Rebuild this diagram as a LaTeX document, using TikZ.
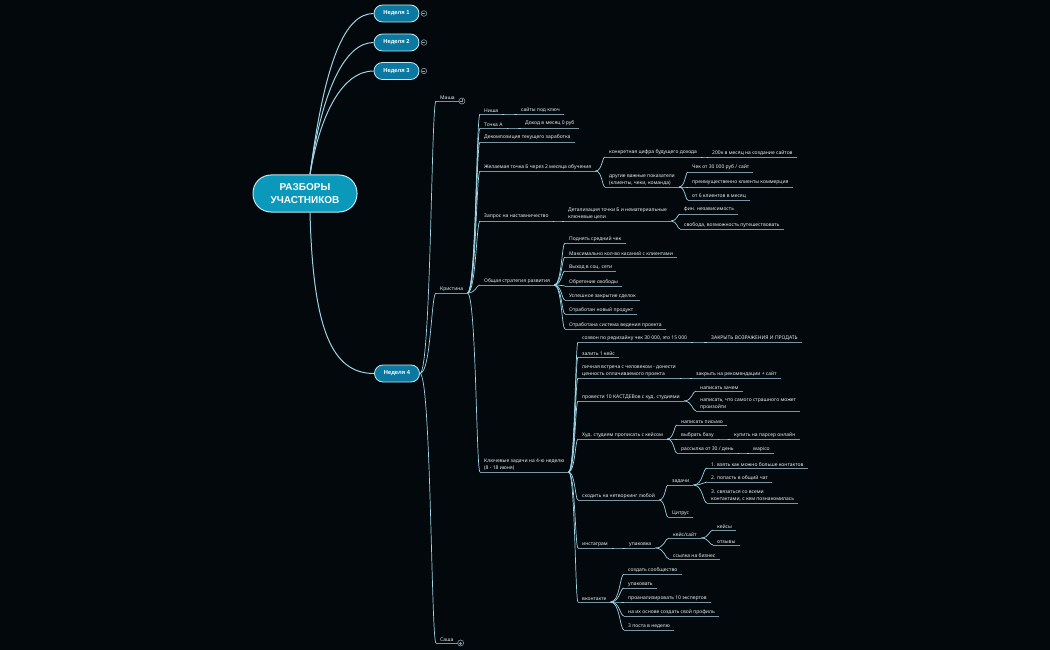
\documentclass[tikz,border=0pt]{standalone}
\usepackage{fontspec}
\setmainfont{Noto Sans}
\newfontfamily\headf{Liberation Sans}
\usetikzlibrary{calc}
\definecolor{bg}{HTML}{02080C}
\definecolor{connc}{HTML}{9CD4E4}
\definecolor{ulc}{HTML}{7C95A3}
\definecolor{txt}{HTML}{E6EEF2}
\definecolor{rootfill}{HTML}{0A98BB}
\definecolor{weekfill}{HTML}{0B78A2}
\definecolor{bord}{HTML}{BDEAF4}
\definecolor{iconc}{HTML}{8A9BA6}
\newcommand\links[2]{\foreach \kid in {#2}{\draw[cn] (#1.south east) to (\kid.south west);}}
\begin{document}
\begin{tikzpicture}[x=1pt,y=-1pt,
  cn/.style={draw=connc, line width=0.7pt,
    to path={let \p1=(\tikztostart), \p2=(\tikztotarget), \n1={\x1+0.7*(\x2-\x1)} in
      .. controls (\n1*1pt,\y1) and (\n1*1pt,\y2) .. (\tikztotarget)}},
  wl/.style={draw=connc, line width=1pt},
  uline/.style={draw=ulc, line width=0.7pt},
  topic/.style={anchor=south west, inner xsep=4pt, inner ysep=1.6pt,
    font=\fontsize{5}{7}\selectfont, text=txt, align=left,
    append after command={(\tikzlastnode.south west) edge[uline] (\tikzlastnode.south east)}},
  rootn/.style={fill=rootfill, draw=bord, line width=1pt, rounded corners=18pt,
    minimum width=104pt, minimum height=37pt, text=white, align=center,
    font=\fontsize{10}{12.5}\selectfont\headf\bfseries},
  week/.style={fill=weekfill, draw=bord, line width=0.8pt, rounded corners=8.5pt,
    minimum width=45pt, minimum height=17pt, text=white, inner sep=0pt,
    font=\fontsize{5.8}{7}\selectfont\headf\bfseries},
  icon/.style={draw=iconc, line width=0.6pt}
]
\fill[bg] (0,0) rectangle (1050,650);
\useasboundingbox (0,0) rectangle (1050,650);

% central and weeks
\node[rootn] (root) at (305,193.5) {РАЗБОРЫ\\УЧАСТНИКОВ};
\node[week] (w1) at (396.5,13.5) {Неделя 1};
\node[week] (w2) at (396.5,42.5) {Неделя 2};
\node[week] (w3) at (396.5,71) {Неделя 3};
\node[week] (w4) at (397,373.5) {Неделя 4};

\foreach \w in {w1,w2,w3}{
  \draw[icon] ($(\w.east)+(4.5,0)$) circle (2.8);
  \draw[icon] ($(\w.east)+(3,0)$) -- ++(3,0);
}

% level 2
\node[topic] (masha) at (436,101) {Маша};
\node[topic] (kristina) at (436,293) {Кристина};
\node[topic] (sasha) at (436,643) {Саша};
\foreach \m in {masha,sasha}{
  \draw[icon] ($(\m.south east)+(3,0)$) circle (3);
  \draw[icon] ($(\m.south east)+(1.5,0)$) -- ++(3,0);
  \draw[icon] ($(\m.south east)+(3,-1.5)$) -- ++(0,3);
}

% Kristina children
\node[topic] (k1) at (480,114) {Ниша};
\node[topic] (k1a) at (517,114) {сайты под ключ};
\node[topic] (k2) at (480,128) {Точка А};
\node[topic] (k2a) at (521,128) {Доход в месяц 0 руб};
\node[topic] (k3) at (480,142) {Декомпозиция текущего заработка};
\node[topic] (k4) at (480,171) {Желаемая точка Б через 2 месяца обучения};
\node[topic] (k4a) at (605,157) {конкретная цифра будущего дохода};
\node[topic] (k4a1) at (708,157) {200к в месяц на создание сайтов};
\node[topic] (k4b) at (605,187) {другие важные показатели\\(клиенты, чеки, команда)};
\node[topic] (k4b1) at (688,172) {Чек от 30 000 руб / сайт};
\node[topic] (k4b2) at (688,187) {преимущественно клиенты коммерция};
\node[topic] (k4b3) at (688,200) {от 6 клиентов в месяц};
\node[topic] (k5) at (480,221) {Запрос на наставничество};
\node[topic] (k5a) at (564,221) {Детализация точки Б и нематериальные\\ключевые цели};
\node[topic] (k5a1) at (680,214) {фин. независимость};
\node[topic] (k5a2) at (680,229) {свобода, возможность путешествовать};
\node[topic] (k6) at (480,285) {Общая стратегия развития};
\node[topic] (s1) at (565,243) {Поднять средний чек};
\node[topic] (s2) at (565,257) {Максимально кол-во касаний с клиентами};
\node[topic] (s3) at (565,271) {Выход в соц. сети};
\node[topic] (s4) at (565,286) {Обретение свободы};
\node[topic] (s5) at (565,300) {Успешное закрытие сделок};
\node[topic] (s6) at (565,314) {Отработан новый продукт};
\node[topic] (s7) at (565,329) {Отработана система ведения проекта};
\node[topic] (k7) at (480,472) {Ключевые задачи на 4-ю неделю\\(8 - 18 июня)};

% key tasks
\node[topic] (t1) at (578,342) {созвон по редизайну чек 30 000, это 15 000};
\node[topic] (t1a) at (707,342) {ЗАКРЫТЬ ВОЗРАЖЕНИЯ И ПРОДАТЬ};
\node[topic] (t2) at (578,357) {залить 1 кейс};
\node[topic] (t3) at (578,378) {личная встреча с человеком - донести\\ценность оплачиваемого проекта};
\node[topic] (t3a) at (692,378) {закрыть на рекомендации + сайт};
\node[topic] (t4) at (578,401) {провести 10 КАСТДЕВов с худ. студиями};
\node[topic] (t4a) at (696,391) {написать зачем};
\node[topic] (t4b) at (696,411) {написать, что самого страшного может\\произойти};
\node[topic] (t5) at (578,439) {Худ. студиям прописать с кейсом};
\node[topic] (t5a) at (677,425) {написать письмо};
\node[topic] (t5b) at (677,439) {выбрать базу};
\node[topic] (t5b1) at (730,439) {купить на парсер онлайн};
\node[topic] (t5c) at (677,453) {рассылка от 30 / день};
\node[topic] (t5c1) at (749,453) {wapico};
\node[topic] (t6) at (578,500) {сходить на нетворкинг любой};
\node[topic] (t6a) at (668,485) {задачи};
\node[topic] (t6a1) at (707,468) {1. взять как можно больше контактов};
\node[topic] (t6a2) at (707,482) {2. попасть в общий чат};
\node[topic] (t6a3) at (707,503) {3. связаться со всеми\\контактами, с кем познакомилась};
\node[topic] (t6b) at (668,517) {Цитрус};
\node[topic] (t7) at (578,548) {инстаграм};
\node[topic] (t7a) at (625,548) {упаковка};
\node[topic] (t7a1) at (669,538) {кейс/сайт};
\node[topic] (t7a1a) at (713,530) {кейсы};
\node[topic] (t7a1b) at (713,545) {отзывы};
\node[topic] (t7a2) at (669,559) {ссылка на бизнес};
\node[topic] (t8) at (578,602) {вконтакте};
\node[topic] (t8a) at (624,574) {создать сообщество};
\node[topic] (t8b) at (624,588) {упаковать};
\node[topic] (t8c) at (624,602) {проанализировать 10 экспертов};
\node[topic] (t8d) at (624,616) {на их основе создать свой профиль};
\node[topic] (t8e) at (624,630) {3 поста в неделю};

% connectors from root
\draw[wl] ([xshift=5pt]root.north) .. controls (325,60) and (345,13.5) .. (w1.west);
\draw[wl] ([xshift=5pt]root.north) .. controls (322,90) and (345,42.5) .. (w2.west);
\draw[wl] ([xshift=5pt]root.north) .. controls (320,115) and (342,71) .. (w3.west);
\draw[wl] ([xshift=5pt]root.south) .. controls (313,330) and (332,373.5) .. (w4.west);

% week 4
\draw[cn] (w4.east) to (masha.south west);
\draw[cn] (w4.east) to (kristina.south west);
\draw[cn] (w4.east) to (sasha.south west);

\links{kristina}{k1,k2,k3,k4,k5,k6,k7}
\links{k1}{k1a}
\links{k2}{k2a}
\links{k4}{k4a,k4b}
\links{k4a}{k4a1}
\links{k4b}{k4b1,k4b2,k4b3}
\links{k5}{k5a}
\links{k5a}{k5a1,k5a2}
\links{k6}{s1,s2,s3,s4,s5,s6,s7}
\links{k7}{t1,t2,t3,t4,t5,t6,t7,t8}
\links{t1}{t1a}
\links{t3}{t3a}
\links{t4}{t4a,t4b}
\links{t5}{t5a,t5b,t5c}
\links{t5b}{t5b1}
\links{t5c}{t5c1}
\links{t6}{t6a,t6b}
\links{t6a}{t6a1,t6a2,t6a3}
\links{t7}{t7a}
\links{t7a}{t7a1,t7a2}
\links{t7a1}{t7a1a,t7a1b}
\links{t8}{t8a,t8b,t8c,t8d,t8e}
\end{tikzpicture}
\end{document}
